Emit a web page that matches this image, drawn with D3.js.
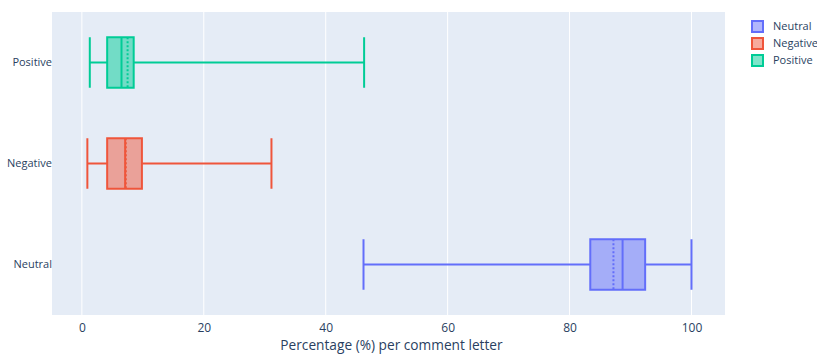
<!DOCTYPE html>
<html>
<head>
<meta charset="utf-8">
<script src="https://cdn.jsdelivr.net/npm/d3@7"></script>
<style>
  html, body { margin: 0; padding: 0; background: #fff; }
  svg { display: block; font-family: "Open Sans", sans-serif; }
</style>
</head>
<body>
<svg id="chart" width="817" height="354"></svg>
<script>
// Sentiment share per comment letter, summarised as box statistics
const categories = ["Neutral", "Negative", "Positive"];
const whiskerLow = [46.2, 0.9, 1.3];
const q1 = [83.4, 4.15, 4.15];
const median = [88.7, 7.1, 6.5];
const mean = [87.2, 7.2, 7.5];
const q3 = [92.4, 9.85, 8.5];
const whiskerHigh = [100, 31.1, 46.3];
const colors = ["#636efa", "#EF553B", "#00cc96"];
const xTicks = [0, 20, 40, 60, 80, 100];
const xTitle = "Percentage (%) per comment letter";

const svg = d3.select("#chart");
const plot = { left: 52, right: 725, top: 12, bottom: 315 };

const x = d3.scaleLinear().domain([-4.9, 105.5]).range([plot.left, plot.right]);
// Categories listed bottom to top
const y = d3.scaleBand().domain(categories.slice().reverse()).range([plot.top, plot.bottom]);
const boxH = y.bandwidth() * 0.5;

svg.append("rect")
  .attr("x", plot.left).attr("y", plot.top)
  .attr("width", plot.right - plot.left).attr("height", plot.bottom - plot.top)
  .attr("fill", "#E5ECF6");

// Vertical gridlines
svg.append("g").selectAll("line").data(xTicks).join("line")
  .attr("x1", d => x(d)).attr("x2", d => x(d))
  .attr("y1", plot.top).attr("y2", plot.bottom)
  .attr("stroke", "#fff").attr("stroke-width", 1);

// X axis tick labels
const xAxis = d3.axisBottom(x).tickValues(xTicks).tickSize(0).tickPadding(8);
const gx = svg.append("g").attr("transform", `translate(0,${plot.bottom})`).call(xAxis);
gx.select(".domain").remove();
gx.selectAll("text").attr("fill", "#2a3f5f").style("font-size", "12px").style("font-family", "Open Sans");

// Y axis category labels
const yAxis = d3.axisLeft(y).tickSize(0).tickPadding(0);
const gy = svg.append("g").attr("transform", `translate(${plot.left},0)`).call(yAxis);
gy.select(".domain").remove();
gy.selectAll("text").attr("fill", "#2a3f5f").style("font-size", "11px").style("font-family", "Open Sans");

svg.append("text")
  .attr("x", (plot.left + plot.right) / 2 + 3).attr("y", 350)
  .attr("text-anchor", "middle").attr("fill", "#2a3f5f")
  .style("font-size", "13.7px")
  .text(xTitle);

// Boxes
const rows = categories.map((c, i) => ({
  c, lo: whiskerLow[i], q1: q1[i], med: median[i], mean: mean[i], q3: q3[i], hi: whiskerHigh[i], color: colors[i]
}));

const g = svg.append("g").selectAll("g").data(rows).join("g")
  .attr("transform", d => `translate(0,${y(d.c) + y.bandwidth() / 2})`);

g.append("line").attr("class", "whisker-lo")
  .attr("x1", d => x(d.lo)).attr("x2", d => x(d.q1)).attr("y1", 0).attr("y2", 0)
  .attr("stroke", d => d.color).attr("stroke-width", 2);
g.append("line").attr("class", "whisker-hi")
  .attr("x1", d => x(d.q3)).attr("x2", d => x(d.hi)).attr("y1", 0).attr("y2", 0)
  .attr("stroke", d => d.color).attr("stroke-width", 2);
g.append("line")
  .attr("x1", d => x(d.lo)).attr("x2", d => x(d.lo)).attr("y1", -boxH / 2).attr("y2", boxH / 2)
  .attr("stroke", d => d.color).attr("stroke-width", 2);
g.append("line")
  .attr("x1", d => x(d.hi)).attr("x2", d => x(d.hi)).attr("y1", -boxH / 2).attr("y2", boxH / 2)
  .attr("stroke", d => d.color).attr("stroke-width", 2);
g.append("rect")
  .attr("x", d => x(d.q1)).attr("y", -boxH / 2)
  .attr("width", d => x(d.q3) - x(d.q1)).attr("height", boxH)
  .attr("fill", d => d.color).attr("fill-opacity", 0.5)
  .attr("stroke", d => d.color).attr("stroke-width", 2);
g.append("line")
  .attr("x1", d => x(d.med)).attr("x2", d => x(d.med)).attr("y1", -boxH / 2).attr("y2", boxH / 2)
  .attr("stroke", d => d.color).attr("stroke-width", 2);
g.append("line")
  .attr("x1", d => x(d.mean)).attr("x2", d => x(d.mean)).attr("y1", -boxH / 2).attr("y2", boxH / 2)
  .attr("stroke", d => d.color).attr("stroke-width", 2).attr("stroke-dasharray", "2,2");

// Legend
const legend = svg.append("g").selectAll("g").data(rows).join("g")
  .attr("transform", (d, i) => `translate(752,${26 + i * 17})`);
legend.append("rect")
  .attr("x", 0).attr("y", -5).attr("width", 11).attr("height", 11)
  .attr("fill", d => d.color).attr("fill-opacity", 0.5)
  .attr("stroke", d => d.color).attr("stroke-width", 2);
legend.append("text")
  .attr("x", 21).attr("y", 4)
  .attr("fill", "#2a3f5f").style("font-size", "11px")
  .text(d => d.c);
</script>
</body>
</html>
